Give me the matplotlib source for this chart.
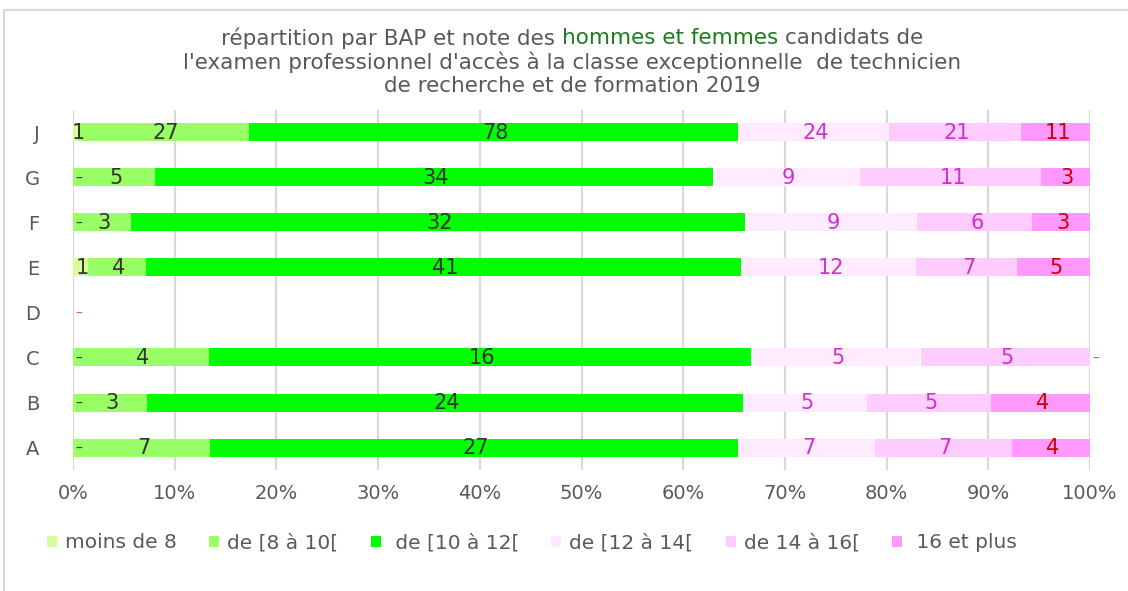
import matplotlib.pyplot as plt
from matplotlib.patches import Patch, Rectangle
import numpy as np

# BAP categories, bottom to top
categories = ['A', 'B', 'C', 'D', 'E', 'F', 'G', 'J']

series_names = ['moins de 8', 'de [8 à 10[', ' de [10 à 12[', 'de [12 à 14[',
                'de 14 à 16[', ' 16 et plus']
moins_8 = [0, 0, 0, 0, 1, 0, 0, 1]
de_8_10 = [7, 3, 4, 0, 4, 3, 5, 27]
de_10_12 = [27, 24, 16, 0, 41, 32, 34, 78]
de_12_14 = [7, 5, 5, 0, 12, 9, 9, 24]
de_14_16 = [7, 5, 5, 0, 7, 6, 11, 21]
plus_16 = [4, 4, 0, 0, 5, 3, 3, 11]

x_ticks = [0, 10, 20, 30, 40, 50, 60, 70, 80, 90, 100]

# --- Style ---
plt.rcParams['font.family'] = 'DejaVu Sans'
text_color = '#595959'
grid_color = '#d9d9d9'
bar_colors = ['#d6ff99', '#99ff66', '#00ff00', '#ffebff', '#ffccff', '#ff99ff']
label_colors = ['#333333', '#333333', '#333333', '#cc33cc', '#cc33cc', '#cc0000']

W, H = 1128, 591
fig = plt.figure(figsize=(W / 100, H / 100), dpi=100)
fig.patch.set_facecolor('white')
ax = fig.add_axes([73 / W, 1 - 470 / H, (1090 - 73) / W, 360 / H])

all_series = [moins_8, de_8_10, de_10_12, de_12_14, de_14_16, plus_16]
data = np.array(all_series, dtype=float)
totals = data.sum(axis=0)
safe_totals = np.where(totals == 0, 1, totals)
shares = data / safe_totals * 100

y = np.arange(len(categories))
left = np.zeros(len(categories))
last = len(series_names) - 1
for i, name in enumerate(series_names):
    ax.barh(y, shares[i], left=left, height=0.4, color=bar_colors[i],
            zorder=3, label=name)
    for j in range(len(categories)):
        val = int(data[i, j])
        if val == 0:
            # empty row: only the top series' dash is visible
            if totals[j] == 0 and i != last:
                continue
            ax.text(left[j] + 0.2, y[j] - 0.03, '–', ha='left', va='center',
                    fontsize=10, color='#e06060' if i == last else '#333333',
                    zorder=4)
        else:
            ax.text(left[j] + shares[i, j] / 2 + 0.2, y[j] - 0.02, str(val),
                    ha='center', va='center', fontsize=15,
                    color=label_colors[i], zorder=4)
    left = left + shares[i]

ax.set_xlim(0, 100)
ax.set_ylim(-0.5, len(categories) - 0.5)
ax.set_xticks(x_ticks)
ax.set_xticklabels([f'{t}%' for t in x_ticks])
ax.set_yticks(y)
ax.set_yticklabels(categories)
ax.tick_params(axis='both', length=0, colors=text_color)
ax.tick_params(axis='x', pad=10, labelsize=14)
ax.tick_params(axis='y', pad=24, labelsize=14)
ax.grid(True, axis='x', color=grid_color, linewidth=1.6, zorder=0)
ax.set_axisbelow(True)
for s in ax.spines.values():
    s.set_visible(False)

# --- Title with coloured part ---
parts = ['répartition par BAP et note des', 'hommes et femmes', 'candidats de']
part_colors = [text_color, '#1e7b1e', text_color]
title_fs = 15.5
renderer = fig.canvas.get_renderer()


def text_width(s):
    t = fig.text(0, 0, s, fontsize=title_fs)
    w = t.get_window_extent(renderer).width
    t.remove()
    return w


space = text_width('a a') - text_width('aa')
widths = [text_width(p) for p in parts]
total = sum(widths) + space * (len(parts) - 1)
cx = 572
x = cx - total / 2
for p, c, w in zip(parts, part_colors, widths):
    fig.text(x / W, 1 - 38 / H, p, fontsize=title_fs, color=c,
             ha='left', va='center')
    x += w + space
fig.text(cx / W, 1 - 62 / H,
         "l'examen professionnel d'accès à la classe exceptionnelle  de technicien",
         fontsize=title_fs, color=text_color, ha='center', va='center')
fig.text(cx / W, 1 - 86 / H, 'de recherche et de formation 2019',
         fontsize=title_fs, color=text_color, ha='center', va='center')

# --- Legend ---
handles = [Patch(facecolor=c, edgecolor='none') for c in bar_colors]
fig.legend(handles, series_names, loc='center', ncol=6,
           bbox_to_anchor=(532 / W, 1 - 543 / H), frameon=False,
           fontsize=14.5, labelcolor=text_color, handlelength=0.5,
           handleheight=0.5, handletextpad=0.4, columnspacing=1.6)

# chart border
fig.add_artist(Rectangle((4 / W, -0.1), 1.2, 1.1 - 10 / H,
                         transform=fig.transFigure, fill=False,
                         edgecolor=grid_color, linewidth=1.5))

fig.savefig('out.png', dpi=100)
